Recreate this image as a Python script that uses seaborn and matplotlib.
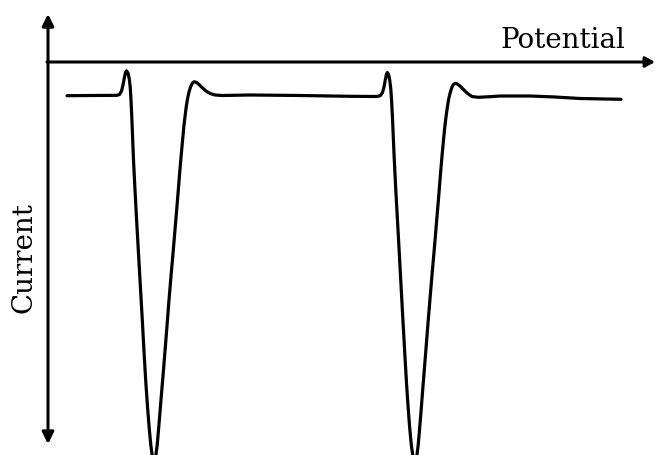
import numpy as np
import pandas as pd
import matplotlib
matplotlib.use("Agg")
import matplotlib.pyplot as plt
import seaborn as sns

# curve: potential (left to right) and pixel height of the trace
potential = [67, 90, 110, 117, 119.5, 121.5, 123, 124.3, 125.5, 126.5,
             128, 129.3, 130.3, 131, 131.7, 132.5, 133.5, 135, 136.6, 138.3,
             140.3, 142.3, 144.2, 146, 147.6, 149.2, 150.8, 152.5, 154, 155.5,
             157.2, 158.5, 160, 161.8, 163.5, 165.5, 167.3, 169, 171.1, 173.3,
             175.4, 177.5, 179.5, 181.2, 182.6, 183.8, 185, 186.2, 187.5, 189,
             190.7, 192.5, 194.3, 196.5, 199, 202, 206, 210, 215, 222,
             250, 300, 350, 375, 378, 380.5, 382.5, 384, 385.3, 386.4,
             387.3, 388.6, 389.8, 390.8, 391.6, 392.4, 393.2, 394.2, 395.7, 397.4,
             399, 400.9, 402.8, 404.7, 406.5, 408.1, 409.7, 411.3, 413.2, 415,
             416.6, 418.2, 419.5, 420.9, 422.6, 424.3, 426.2, 428.1, 429.9, 432,
             434.2, 436.3, 438.4, 440.4, 442.1, 443.5, 444.8, 446, 447.3, 448.6,
             450.1, 451.8, 453.4, 455, 457.3, 460, 463, 467, 472, 478,
             490, 500, 530, 555, 580, 621]
pixel_y = [95.7, 95.5, 95.4, 95.3, 94.5, 91, 85, 78, 72.5, 70.8,
           73, 79, 88, 100, 115, 135, 160, 190, 220, 250,
           285, 320, 355, 385, 408, 428, 445, 458, 464, 458,
           445, 430, 412, 390, 370, 345, 322, 300, 275, 250,
           225, 200, 175, 155, 140, 127, 116.7, 107, 99, 92,
           86.5, 83, 81.7, 82.5, 84.5, 87.5, 91, 93.5, 95, 95.5,
           95, 95.5, 96.3, 96.5, 96.3, 95.5, 92.5, 87, 80, 74.5,
           72.5, 74.5, 80.5, 89, 101, 116, 135, 158, 188, 219,
           248, 283, 318, 352, 383, 407, 428, 445, 458, 464,
           458, 445, 430, 413, 391, 370, 346, 322, 300, 275,
           250, 225, 200, 175, 155, 140, 127, 117, 107.5, 99.5,
           93, 87.5, 84.5, 83.3, 84, 86, 89, 93, 96.5, 97.3,
           96.7, 96, 96, 97, 98.5, 99.3]
current = [62 - v for v in pixel_y]

df = pd.DataFrame({"Potential": potential, "Current": current})

sns.set_style("white")
plt.rcParams["font.family"] = ["DejaVu Serif"]

fig = plt.figure(figsize=(6.55, 4.55), dpi=100)
ax = fig.add_axes([0, 0, 1, 1])
sns.lineplot(data=df, x="Potential", y="Current", sort=False, estimator=None,
             color="black", lw=2.3, ax=ax)
ax.set_xlim(0, 655)
ax.set_ylim(62 - 455, 62)
ax.axis("off")

# axes drawn as arrows
ax.annotate("", xy=(48, 62 - 14), xytext=(48, 62 - 444),
            arrowprops=dict(arrowstyle="<|-|>,head_length=0.5,head_width=0.25",
                            mutation_scale=14, lw=2.2, color="black",
                            shrinkA=0, shrinkB=0))
ax.annotate("", xy=(655, 0), xytext=(47, 0),
            arrowprops=dict(arrowstyle="-|>,head_length=0.4,head_width=0.22",
                            mutation_scale=14, lw=2.2, color="black",
                            shrinkA=0, shrinkB=0))

ax.text(625, 62 - 48, "Potential", ha="right", va="baseline", fontsize=20, color="black")
ax.text(24, 62 - 258, "Current", ha="center", va="center", rotation=90,
        fontsize=20, color="black")

fig.savefig("out.png", dpi=100)
